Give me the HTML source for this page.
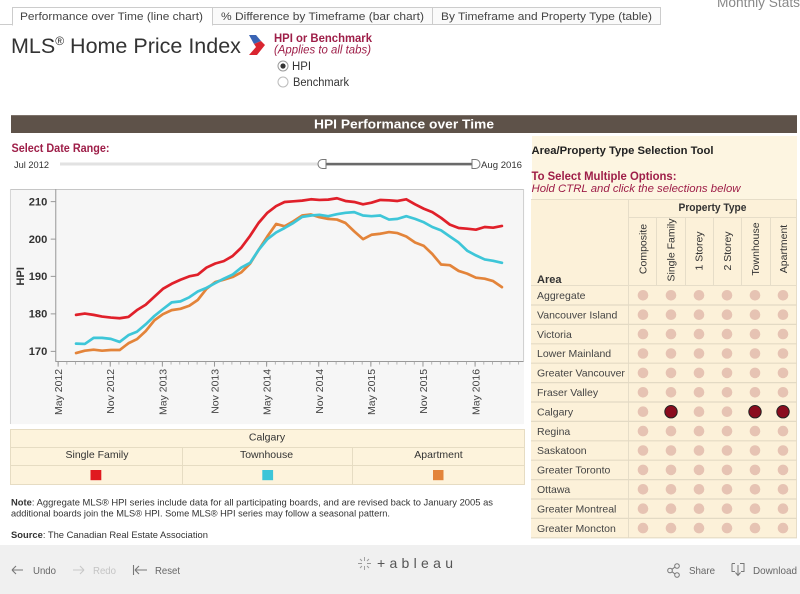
<!DOCTYPE html>
<html><head><meta charset="utf-8"><style>
html,body{margin:0;padding:0;background:#fff;}
body{width:800px;height:594px;overflow:hidden;}
svg{display:block;}
</style></head><body>
<svg width="800" height="594" viewBox="0 0 800 594" font-family="'Liberation Sans', Arial, sans-serif">
<defs>
<pattern id="mt" x="170.75" y="0" width="25.7" height="20" patternUnits="userSpaceOnUse"><rect x="0" y="0" width="2.5" height="20" fill="#aaa"/></pattern>
</defs>
<!-- Tabs -->
<line x1="0" y1="24.5" x2="661" y2="24.5" stroke="#ccc"/>
<rect x="212.5" y="7.5" width="220" height="17" fill="#fafafa" stroke="#ccc"/>
<rect x="432.5" y="7.5" width="228" height="17" fill="#fafafa" stroke="#ccc"/>
<rect x="12.5" y="7.5" width="200" height="17.5" fill="#fff" stroke="#ccc"/>
<rect x="13" y="24" width="199" height="2" fill="#fff"/>
<text x="20" y="20" font-size="11" fill="#444" textLength="183" lengthAdjust="spacingAndGlyphs">Performance over Time (line chart)</text>
<text x="221" y="20" font-size="11" fill="#444" textLength="203" lengthAdjust="spacingAndGlyphs">% Difference by Timeframe (bar chart)</text>
<text x="441" y="20" font-size="11" fill="#444" textLength="211" lengthAdjust="spacingAndGlyphs">By Timeframe and Property Type (table)</text>
<text x="717" y="7" font-size="14" fill="#888" textLength="83" lengthAdjust="spacingAndGlyphs">Monthly Stats</text>

<!-- Title -->
<text x="11" y="53" font-size="21.5" fill="#333">MLS<tspan font-size="12" dy="-8">®</tspan><tspan dy="8"> Home Price Index</tspan></text>
<polygon points="249,35 256,35 261,41 254,44" fill="#3a64b4"/>
<polygon points="254,44 261,41 265,45 257,55 249,55 256,47" fill="#d92530"/>
<text x="274" y="42" font-size="11.5" font-weight="bold" fill="#9e1e48" textLength="98" lengthAdjust="spacingAndGlyphs">HPI or Benchmark</text>
<text x="274" y="53.5" font-size="11.5" font-style="italic" fill="#9e1e48" textLength="97" lengthAdjust="spacingAndGlyphs">(Applies to all tabs)</text>
<circle cx="283" cy="66" r="5" fill="#fff" stroke="#999"/>
<circle cx="283" cy="66" r="2.6" fill="#333"/>
<text x="292" y="70" font-size="11.5" fill="#333" textLength="19" lengthAdjust="spacingAndGlyphs">HPI</text>
<circle cx="283" cy="82" r="5" fill="#fff" stroke="#bbb"/>
<text x="293" y="86" font-size="11.5" fill="#333" textLength="56" lengthAdjust="spacingAndGlyphs">Benchmark</text>

<!-- Header bar -->
<rect x="11" y="115" width="786" height="18" fill="#5e5249"/>
<line x1="11" y1="115.5" x2="797" y2="115.5" stroke="#7d726a"/>
<text x="404" y="128.5" text-anchor="middle" font-size="13" font-weight="bold" fill="#fff" textLength="180" lengthAdjust="spacingAndGlyphs">HPI Performance over Time</text>

<!-- Date range -->
<text x="11.5" y="152" font-size="11.5" font-weight="bold" fill="#9e1e48" textLength="98" lengthAdjust="spacingAndGlyphs">Select Date Range:</text>
<text x="14" y="168" font-size="9.5" fill="#333" textLength="35" lengthAdjust="spacingAndGlyphs">Jul 2012</text>
<rect x="60" y="162.5" width="260" height="3" fill="#e2e2e2"/>
<rect x="325" y="162.8" width="148" height="2.6" fill="#6a6a6a"/>
<path d="M326,159.5 h-3.5 a4.5,4.5 0 0 0 0,9 h3.5 z" fill="#fff" stroke="#777"/>
<path d="M472,159.5 h3.5 a4.5,4.5 0 0 1 0,9 h-3.5 z" fill="#fff" stroke="#777"/>
<text x="481" y="168" font-size="9.5" fill="#333" textLength="41" lengthAdjust="spacingAndGlyphs">Aug 2016</text>

<!-- Chart -->
<g transform="translate(0,179) scale(0.338)">
<rect x="30" y="30" width="1520" height="695" fill="#f6f6f6"/>
<line x1="30" y1="31" x2="1550" y2="31" stroke="#c6c6c6" stroke-width="3"/>
<line x1="31" y1="30" x2="31" y2="725" stroke="#d6d6d6" stroke-width="3"/>
<line x1="1549" y1="30" x2="1549" y2="540" stroke="#cfcfcf" stroke-width="3"/>
<line x1="165" y1="30" x2="165" y2="541" stroke="#999" stroke-width="3"/>
<line x1="164" y1="540" x2="1549" y2="540" stroke="#999" stroke-width="3"/>
<path d="M150,67H165M150,178H165M150,288H165M150,399H165M150,510H165" stroke="#999" stroke-width="3"/>
<g font-size="33" font-weight="bold" fill="#333" text-anchor="end">
<text x="140" y="78">210</text>
<text x="140" y="189">200</text>
<text x="140" y="299">190</text>
<text x="140" y="410">180</text>
<text x="140" y="521">170</text>
</g>
<text transform="translate(71,288) rotate(-90)" text-anchor="middle" font-size="33" font-weight="bold" fill="#333">HPI</text>
<rect x="166" y="541" width="1375" height="8" fill="url(#mt)"/>
<path d="M172,540v15M326.2,540v15M480.4,540v15M634.6,540v15M788.8,540v15M943,540v15M1097.2,540v15M1251.4,540v15M1405.6,540v15" stroke="#999" stroke-width="3"/>
<g font-size="31" fill="#444" text-anchor="end">
<text transform="translate(184,562) rotate(-90)">May 2012</text>
<text transform="translate(338,562) rotate(-90)">Nov 2012</text>
<text transform="translate(492,562) rotate(-90)">May 2013</text>
<text transform="translate(646,562) rotate(-90)">Nov 2013</text>
<text transform="translate(801,562) rotate(-90)">May 2014</text>
<text transform="translate(955,562) rotate(-90)">Nov 2014</text>
<text transform="translate(1109,562) rotate(-90)">May 2015</text>
<text transform="translate(1263,562) rotate(-90)">Nov 2015</text>
<text transform="translate(1418,562) rotate(-90)">May 2016</text>
</g>
<g fill="none" stroke-width="8" stroke-linejoin="round" stroke-linecap="round">
<polyline stroke="#e3843a" points="225,515 251,508 277,505 302,508 328,506 354,506 380,486 405,474 431,450 457,418 482,400 508,388 534,384 560,375 585,358 611,325 637,305 662,298 688,290 714,276 740,250 765,210 791,170 817,133 842,140 868,125 894,108 920,105 945,113 971,118 997,120 1022,130 1048,155 1074,178 1099,165 1125,162 1151,157 1176,160 1202,170 1228,188 1254,198 1279,222 1305,253 1331,255 1357,272 1382,280 1408,292 1434,295 1459,302 1485,320"/>
<polyline stroke="#3ec6d8" points="225,487 251,488 277,470 302,470 328,473 354,482 380,462 405,452 431,430 457,405 482,385 508,365 534,362 560,350 585,333 611,322 637,308 662,295 688,283 714,262 740,248 765,210 791,178 817,158 842,145 868,130 894,112 920,108 945,106 971,110 997,104 1022,100 1048,98 1074,108 1099,110 1125,108 1151,120 1176,118 1202,110 1228,118 1254,128 1279,142 1305,152 1331,170 1357,188 1382,212 1408,226 1434,238 1459,242 1485,248"/>
<polyline stroke="#e0202a" points="225,402 251,398 277,402 302,407 328,410 354,412 380,408 405,388 431,372 457,348 482,325 508,310 534,298 560,288 585,283 611,262 637,250 662,243 688,228 714,203 740,168 765,130 791,100 817,80 842,68 868,66 894,64 920,60 945,62 971,61 997,57 1022,65 1048,68 1074,75 1099,70 1125,62 1151,63 1176,65 1202,60 1228,75 1254,88 1279,98 1305,115 1331,135 1357,145 1382,147 1408,150 1434,142 1459,144 1485,139"/>
</g>
</g>

<!-- Legend table -->
<rect x="10.5" y="429.5" width="514" height="55" fill="#fdf3dc" stroke="#e6dcc3"/>
<path d="M10.5,447.5H524.5M10.5,465.5H524.5M182.5,447.5V484.5M352.5,447.5V484.5" stroke="#e6dcc3"/>
<g font-size="10.5" fill="#333" text-anchor="middle">
<text x="267" y="440.5">Calgary</text>
<text x="97" y="458">Single Family</text>
<text x="266.5" y="458">Townhouse</text>
<text x="438.5" y="458">Apartment</text>
</g>
<rect x="90.5" y="470" width="10.8" height="10.2" fill="#e0191f"/>
<rect x="262.3" y="470" width="10.8" height="10.2" fill="#3dc5d8"/>
<rect x="433" y="470" width="10.5" height="10.2" fill="#e3843a"/>

<!-- Notes -->
<text x="11" y="505.5" font-size="9.5" fill="#333" textLength="482" lengthAdjust="spacingAndGlyphs"><tspan font-weight="bold">Note</tspan>: Aggregate MLS® HPI series include data for all participating boards, and are revised back to January 2005 as</text>
<text x="11" y="516.5" font-size="9.5" fill="#333" textLength="379" lengthAdjust="spacingAndGlyphs">additional boards join the MLS® HPI. Some MLS® HPI series may follow a seasonal pattern.</text>
<text x="11" y="538" font-size="9.5" fill="#333" textLength="197" lengthAdjust="spacingAndGlyphs"><tspan font-weight="bold">Source</tspan>: The Canadian Real Estate Association</text>

<!-- Right panel -->
<rect x="532" y="136" width="265" height="402" fill="#fdf5e1"/>
<text x="531.5" y="154" font-size="11" font-weight="bold" fill="#222" textLength="182" lengthAdjust="spacingAndGlyphs">Area/Property Type Selection Tool</text>
<text x="531.5" y="180" font-size="11.5" font-weight="bold" fill="#9e1e48" textLength="145" lengthAdjust="spacingAndGlyphs">To Select Multiple Options:</text>
<text x="531.5" y="192" font-size="11" font-style="italic" fill="#9e1e48" textLength="209" lengthAdjust="spacingAndGlyphs">Hold CTRL and click the selections below</text>
<rect x="531" y="199" width="266" height="339" fill="#fcf1d9"/>
<path d="M531,199.5H797M628.5,217.5H797M531,285.5H797M628.5,199V538M656.5,217V285M685.5,217V285M713.5,217V285M741.5,217V285M770.5,217V285M796.5,199V538" stroke="#e6ddc8"/>
<path d="M531,305H797M531,324.4H797M531,343.8H797M531,363.2H797M531,382.6H797M531,402H797M531,421.4H797M531,440.8H797M531,460.2H797M531,479.6H797M531,499H797M531,518.4H797M531,537.8H797" stroke="#e3dac4" stroke-width="1.2"/>
<text x="712.5" y="211" text-anchor="middle" font-size="11" font-weight="bold" fill="#333" textLength="68" lengthAdjust="spacingAndGlyphs">Property Type</text>
<text x="537" y="283" font-size="11" font-weight="bold" fill="#333">Area</text>
<g font-size="10.5" fill="#333" text-anchor="middle">
<text transform="translate(646.5,249) rotate(-90)">Composite</text>
<text transform="translate(674.5,250) rotate(-90)">Single Family</text>
<text transform="translate(702.5,251) rotate(-90)">1 Storey</text>
<text transform="translate(731,251) rotate(-90)">2 Storey</text>
<text transform="translate(759,249) rotate(-90)">Townhouse</text>
<text transform="translate(787,249) rotate(-90)">Apartment</text>
</g>
<g font-size="10.5" fill="#444">
<text x="537" y="299">Aggregate</text>
<text x="537" y="318.4">Vancouver Island</text>
<text x="537" y="337.8">Victoria</text>
<text x="537" y="357.2">Lower Mainland</text>
<text x="537" y="376.6">Greater Vancouver</text>
<text x="537" y="396">Fraser Valley</text>
<text x="537" y="415.4">Calgary</text>
<text x="537" y="434.8">Regina</text>
<text x="537" y="454.2">Saskatoon</text>
<text x="537" y="473.6">Greater Toronto</text>
<text x="537" y="493">Ottawa</text>
<text x="537" y="512.4">Greater Montreal</text>
<text x="537" y="531.8">Greater Moncton</text>
</g>
<g fill="#e6c3b3">
<circle cx="643" cy="295.3" r="5.3"/><circle cx="671" cy="295.3" r="5.3"/><circle cx="699" cy="295.3" r="5.3"/><circle cx="727" cy="295.3" r="5.3"/><circle cx="755" cy="295.3" r="5.3"/><circle cx="783" cy="295.3" r="5.3"/>
<circle cx="643" cy="314.7" r="5.3"/><circle cx="671" cy="314.7" r="5.3"/><circle cx="699" cy="314.7" r="5.3"/><circle cx="727" cy="314.7" r="5.3"/><circle cx="755" cy="314.7" r="5.3"/><circle cx="783" cy="314.7" r="5.3"/>
<circle cx="643" cy="334.1" r="5.3"/><circle cx="671" cy="334.1" r="5.3"/><circle cx="699" cy="334.1" r="5.3"/><circle cx="727" cy="334.1" r="5.3"/><circle cx="755" cy="334.1" r="5.3"/><circle cx="783" cy="334.1" r="5.3"/>
<circle cx="643" cy="353.5" r="5.3"/><circle cx="671" cy="353.5" r="5.3"/><circle cx="699" cy="353.5" r="5.3"/><circle cx="727" cy="353.5" r="5.3"/><circle cx="755" cy="353.5" r="5.3"/><circle cx="783" cy="353.5" r="5.3"/>
<circle cx="643" cy="372.9" r="5.3"/><circle cx="671" cy="372.9" r="5.3"/><circle cx="699" cy="372.9" r="5.3"/><circle cx="727" cy="372.9" r="5.3"/><circle cx="755" cy="372.9" r="5.3"/><circle cx="783" cy="372.9" r="5.3"/>
<circle cx="643" cy="392.3" r="5.3"/><circle cx="671" cy="392.3" r="5.3"/><circle cx="699" cy="392.3" r="5.3"/><circle cx="727" cy="392.3" r="5.3"/><circle cx="755" cy="392.3" r="5.3"/><circle cx="783" cy="392.3" r="5.3"/>
<circle cx="643" cy="411.7" r="5.3"/><circle cx="699" cy="411.7" r="5.3"/><circle cx="727" cy="411.7" r="5.3"/>
<circle cx="643" cy="431.1" r="5.3"/><circle cx="671" cy="431.1" r="5.3"/><circle cx="699" cy="431.1" r="5.3"/><circle cx="727" cy="431.1" r="5.3"/><circle cx="755" cy="431.1" r="5.3"/><circle cx="783" cy="431.1" r="5.3"/>
<circle cx="643" cy="450.5" r="5.3"/><circle cx="671" cy="450.5" r="5.3"/><circle cx="699" cy="450.5" r="5.3"/><circle cx="727" cy="450.5" r="5.3"/><circle cx="755" cy="450.5" r="5.3"/><circle cx="783" cy="450.5" r="5.3"/>
<circle cx="643" cy="469.9" r="5.3"/><circle cx="671" cy="469.9" r="5.3"/><circle cx="699" cy="469.9" r="5.3"/><circle cx="727" cy="469.9" r="5.3"/><circle cx="755" cy="469.9" r="5.3"/><circle cx="783" cy="469.9" r="5.3"/>
<circle cx="643" cy="489.3" r="5.3"/><circle cx="671" cy="489.3" r="5.3"/><circle cx="699" cy="489.3" r="5.3"/><circle cx="727" cy="489.3" r="5.3"/><circle cx="755" cy="489.3" r="5.3"/><circle cx="783" cy="489.3" r="5.3"/>
<circle cx="643" cy="508.7" r="5.3"/><circle cx="671" cy="508.7" r="5.3"/><circle cx="699" cy="508.7" r="5.3"/><circle cx="727" cy="508.7" r="5.3"/><circle cx="755" cy="508.7" r="5.3"/><circle cx="783" cy="508.7" r="5.3"/>
<circle cx="643" cy="528.1" r="5.3"/><circle cx="671" cy="528.1" r="5.3"/><circle cx="699" cy="528.1" r="5.3"/><circle cx="727" cy="528.1" r="5.3"/><circle cx="755" cy="528.1" r="5.3"/><circle cx="783" cy="528.1" r="5.3"/>
</g>
<g fill="#8a0c1e" stroke="#222" stroke-width="1">
<circle cx="671" cy="411.7" r="6.2"/><circle cx="755" cy="411.7" r="6.2"/><circle cx="783" cy="411.7" r="6.2"/>
</g>

<!-- Footer -->
<rect x="0" y="545" width="800" height="49" fill="#f0f0f0"/>
<g stroke="#777" stroke-width="1.1" fill="none">
<path d="M12,570H23M12,570l4,-4M12,570l4,4"/>
<path d="M73,570H84M84,570l-4,-4M84,570l-4,4" stroke="#c8c8c8"/>
<path d="M133.5,565V575M135,570H147M135,570l4,-4M135,570l4,4"/>
</g>
<text x="33" y="574" font-size="10.5" fill="#666" textLength="23" lengthAdjust="spacingAndGlyphs">Undo</text>
<text x="93" y="574" font-size="10.5" fill="#c4c4c4" textLength="23" lengthAdjust="spacingAndGlyphs">Redo</text>
<text x="155" y="574" font-size="10.5" fill="#666" textLength="25" lengthAdjust="spacingAndGlyphs">Reset</text>
<g stroke="#999" stroke-width="0.9">
<path d="M364.5,557v4M364.5,566v4M358,563.5h4M367,563.5h4M360,559l2,2M367,566l2,2M369,559l-2,2M360,568l2,-2"/>
</g>
<text x="377" y="568" font-size="14" fill="#555" textLength="76" lengthAdjust="spacing">+ableau</text>
<g stroke="#777" stroke-width="1" fill="none">
<circle cx="670" cy="570.5" r="2.3"/><circle cx="677" cy="566" r="2.3"/><circle cx="677" cy="575" r="2.3"/>
<path d="M672,569.3L675,567M672,571.7L675,574"/>
<path d="M732,563.5h3M740,563.5h4v8h-3M735,571.5h-3v-8M738,565v10M735.5,572.5l2.5,3l2.5,-3"/>
</g>
<text x="689" y="574" font-size="10.5" fill="#666" textLength="26" lengthAdjust="spacingAndGlyphs">Share</text>
<text x="753" y="574" font-size="10.5" fill="#666" textLength="44" lengthAdjust="spacingAndGlyphs">Download</text>
</svg>
</body></html>
